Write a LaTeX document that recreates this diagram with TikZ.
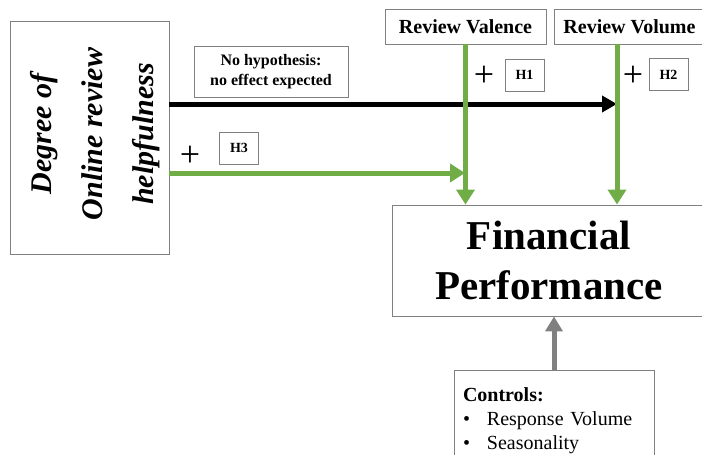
\documentclass[tikz,border=0pt]{standalone}
\usepackage{fontspec}
\setmainfont{Liberation Serif}
\usetikzlibrary{arrows.meta}
\definecolor{hypgreen}{RGB}{112,173,71}
\definecolor{boxgray}{RGB}{128,128,128}
\tikzset{
  box/.style={draw=boxgray, line width=0.9pt, inner sep=0pt, align=center},
  hbox/.style={box, minimum width=39pt, minimum height=32pt, font=\bfseries\fontsize{14}{16}\selectfont},
  plus/.style={inner sep=0pt, font=\fontsize{36}{36}\selectfont},
  greenarrow/.style={draw=hypgreen, line width=5pt, -{Triangle[length=15pt,width=18pt]}},
  blackarrow/.style={draw=black, line width=5pt, -{Triangle[length=15pt,width=16pt]}},
  grayarrow/.style={draw=boxgray, line width=5pt, -{Triangle[length=15pt,width=17pt]}}
}
\begin{document}
\begin{tikzpicture}[x=1pt,y=1pt]
\useasboundingbox (0,0) rectangle (702,-455);
\clip (0,0) rectangle (702,-455);
% independent variable
\node [box, minimum width=159pt, minimum height=233pt] (help) at (89.5,-137.5) {};
\node [rotate=90, align=center, font=\bfseries\itshape\fontsize{30}{51}\selectfont] (helptext) at (95,-134) {Degree of\\Online review\\helpfulness};
% moderators
\node [box, minimum width=161pt, minimum height=35pt, font=\bfseries\fontsize{20}{22}\selectfont] (valence) at (465.5,-26.5) {Review Valence};
\node [box, anchor=west, minimum height=35pt, inner xsep=9pt, font=\bfseries\fontsize{20}{22}\selectfont] (volume) at (554,-26.5) {Review Volume};
% dependent variable
\node [box, minimum width=314pt, minimum height=111pt, font=\bfseries\fontsize{41}{50}\selectfont] (fp) at (549,-260.5) {Financial\\Performance};
% controls
\node [box, anchor=north, minimum width=200pt, minimum height=100pt, text width=182pt, align=left, font=\fontsize{20}{24}\selectfont] (controls) at (554,-370)
  {\textbf{Controls:}\\
   \makebox[24pt][l]{\textbullet}Response Volume\\
   \makebox[24pt][l]{\textbullet}Seasonality};
% hypothesis labels
\node [box, minimum width=154pt, minimum height=51pt, font=\bfseries\fontsize{16}{20}\selectfont] (nohyp) at (271,-71.5) {No hypothesis:\\no effect expected};
\node [hbox] (h1) at (524.5,-75) {H1};
\node [hbox] (h2) at (668.5,-74.5) {H2};
\node [hbox] (h3) at (239,-148) {H3};
\node [plus] (p1) at (484,-76) {+};
\node [plus] (p2) at (633,-76) {+};
\node [plus] (p3) at (190,-156) {+};
% connectors
\coordinate (volline) at (617,-44);
\coordinate (blackend) at (617,-104);
\coordinate (greenend) at (465,-173);
\draw [blackarrow] (help.east |- blackend) -- (blackend);
\draw [greenarrow] (help.east |- greenend) -- (greenend);
\draw [greenarrow] (valence.south) -- (valence.south |- fp.north);
\draw [greenarrow] (volline) -- (volline |- fp.north);
\draw [grayarrow] (controls.north) -- (controls.north |- fp.south);
\end{tikzpicture}
\end{document}
